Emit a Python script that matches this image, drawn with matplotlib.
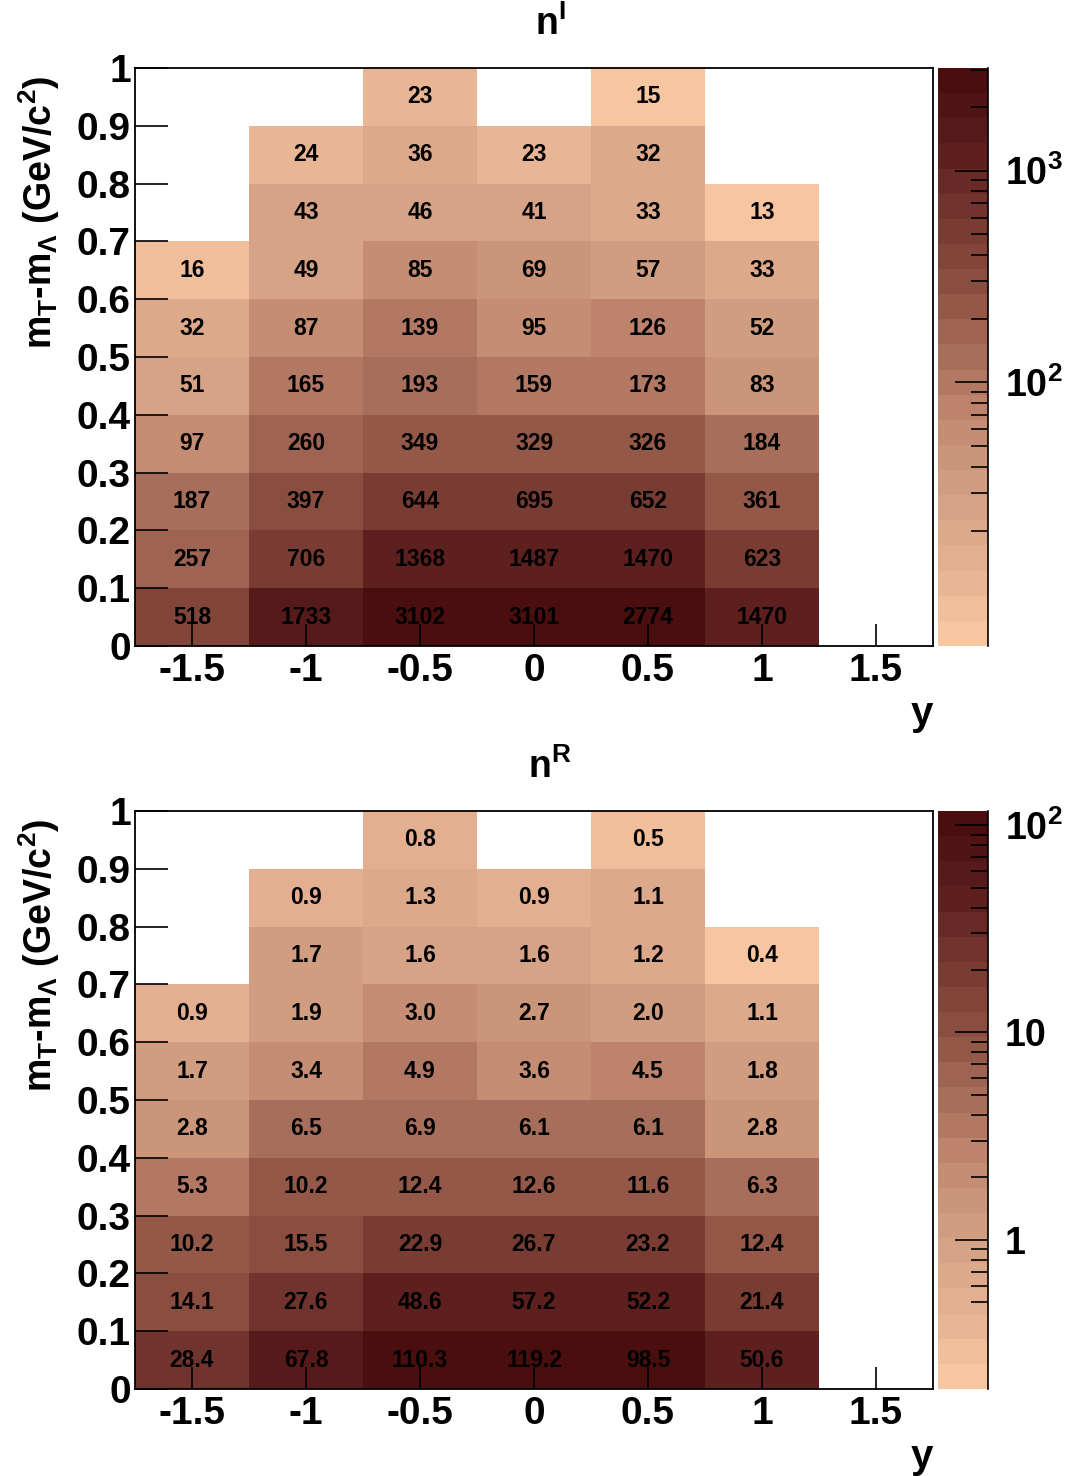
import numpy as np
import matplotlib
matplotlib.use("Agg")
import matplotlib.pyplot as plt
import matplotlib.cm as cm
from matplotlib.colors import LinearSegmentedColormap, ListedColormap, LogNorm
from matplotlib.ticker import FixedLocator, NullFormatter

plt.rcParams['font.family'] = ['Liberation Sans', 'DejaVu Sans']
plt.rcParams['font.weight'] = 'bold'
plt.rcParams['mathtext.fontset'] = 'custom'
plt.rcParams['mathtext.rm'] = 'Liberation Sans:bold'
plt.rcParams['mathtext.it'] = 'Liberation Sans:bold'
plt.rcParams['mathtext.bf'] = 'Liberation Sans:bold'

# bin centres
y_bins = [-1.5, -1.0, -0.5, 0.0, 0.5, 1.0, 1.5]
mt_bins = [0.05, 0.15, 0.25, 0.35, 0.45, 0.55, 0.65, 0.75, 0.85, 0.95]

# rows: mt bins from bottom (0.05) to top (0.95); columns: y bins
nI = [
    [518, 1733, 3102, 3101, 2774, 1470, None],
    [257, 706, 1368, 1487, 1470, 623, None],
    [187, 397, 644, 695, 652, 361, None],
    [97, 260, 349, 329, 326, 184, None],
    [51, 165, 193, 159, 173, 83, None],
    [32, 87, 139, 95, 126, 52, None],
    [16, 49, 85, 69, 57, 33, None],
    [None, 43, 46, 41, 33, 13, None],
    [None, 24, 36, 23, 32, None, None],
    [None, None, 23, None, 15, None, None],
]
nR = [
    [28.4, 67.8, 110.3, 119.2, 98.5, 50.6, None],
    [14.1, 27.6, 48.6, 57.2, 52.2, 21.4, None],
    [10.2, 15.5, 22.9, 26.7, 23.2, 12.4, None],
    [5.3, 10.2, 12.4, 12.6, 11.6, 6.3, None],
    [2.8, 6.5, 6.9, 6.1, 6.1, 2.8, None],
    [1.7, 3.4, 4.9, 3.6, 4.5, 1.8, None],
    [0.9, 1.9, 3.0, 2.7, 2.0, 1.1, None],
    [None, 1.7, 1.6, 1.6, 1.2, 0.4, None],
    [None, 0.9, 1.3, 0.9, 1.1, None, None],
    [None, None, 0.8, None, 0.5, None, None],
]

base = LinearSegmentedColormap.from_list(
    "root_brown",
    ["#f7c6a0", "#e4b091", "#d4a084", "#c48b72", "#a86e5c",
     "#8b5040", "#763830", "#5c1e1e", "#4b0e0e"])
cmap = ListedColormap(base(np.linspace(0, 1, 23)))
cmap.set_bad("white")

fig = plt.figure(figsize=(10.75, 14.76), dpi=100)
W, H = 1075, 1476


def panel(top, data, cell_lim, bar_lim, fmt, title, cb_major, cb_labels, cb_minor):
    ax = fig.add_axes([135 / W, 1 - (top + 578) / H, 798 / W, 578 / H])
    cax = fig.add_axes([938 / W, 1 - (top + 578) / H, 50 / W, 578 / H])
    arr = np.array([[np.nan if v is None else v for v in row] for row in data], dtype=float)
    edges_x = np.append(np.array(y_bins) - 0.25, y_bins[-1] + 0.25)
    edges_y = np.append(np.array(mt_bins) - 0.05, mt_bins[-1] + 0.05)
    ax.pcolormesh(edges_x, edges_y, np.ma.masked_invalid(arr), cmap=cmap,
                  norm=LogNorm(vmin=cell_lim[0], vmax=cell_lim[1]))
    for i, yc in enumerate(mt_bins):
        for j, xc in enumerate(y_bins):
            v = data[i][j]
            if v is None:
                continue
            ax.text(xc, yc, fmt.format(v), ha='center', va='center',
                    fontsize=16.5, fontweight='bold', color='black')
    ax.set_xlim(-1.75, 1.75)
    ax.set_ylim(0, 1)
    ax.set_xticks(y_bins)
    ax.set_xticklabels(['-1.5', '-1', '-0.5', '0', '0.5', '1', '1.5'])
    ax.set_yticks(np.arange(0, 1.01, 0.1))
    ax.set_yticklabels(['0', '0.1', '0.2', '0.3', '0.4', '0.5', '0.6', '0.7', '0.8', '0.9', '1'])
    ax.tick_params(axis='x', direction='in', length=16, width=1.2, labelsize=28, pad=5)
    ax.tick_params(axis='y', direction='in', length=24, width=1.2, labelsize=28, pad=3)
    for lbl in ax.get_xticklabels() + ax.get_yticklabels():
        lbl.set_fontweight('bold')
    for s in ax.spines.values():
        s.set_linewidth(1.3)
    ax.set_ylabel(r'm$_{T}$-m$_{\Lambda}$ (GeV/c$^{2}$)', fontsize=27, fontweight='bold')
    ax.yaxis.set_label_coords(-0.092, 0.75)
    ax.text(1.0, -0.085, 'y', transform=ax.transAxes, ha='right', va='top',
            fontsize=29, fontweight='bold')
    fig.text(550 / W, 1 - (top - 44) / H, title, ha='center', va='center',
             fontsize=27, fontweight='bold')

    sm = cm.ScalarMappable(norm=LogNorm(vmin=bar_lim[0], vmax=bar_lim[1]), cmap=cmap)
    cb = fig.colorbar(sm, cax=cax)
    cb.outline.set_visible(False)
    cax.yaxis.set_ticks_position('right')
    cax.yaxis.set_major_locator(FixedLocator(cb_major))
    cax.yaxis.set_minor_locator(FixedLocator(cb_minor))
    cax.yaxis.set_minor_formatter(NullFormatter())
    cax.set_yticklabels(cb_labels)
    cax.tick_params(axis='y', which='major', direction='in', length=24, width=1.2,
                    labelsize=27, pad=12)
    cax.tick_params(axis='y', which='minor', direction='in', length=12, width=1.2)
    cax.spines['right'].set_visible(True)
    cax.spines['right'].set_linewidth(1.2)


minor_I = [20, 30, 40, 50, 60, 70, 80, 90,
           200, 300, 400, 500, 600, 700, 800, 900, 2000, 3000]
minor_R = [0.5, 0.6, 0.7, 0.8, 0.9, 2, 3, 4, 5, 6, 7, 8, 9,
           20, 30, 40, 50, 60, 70, 80, 90]

panel(68, nI, (12, 3300), (5.7, 3050), '{:d}', r'n$^{I}$',
      [100, 1000], [r'10$^{2}$', r'10$^{3}$'], minor_I)
panel(811, nR, (0.37, 125), (0.19, 117), '{:.1f}', r'n$^{R}$',
      [1, 10, 100], ['1', '10', r'10$^{2}$'], minor_R)

fig.savefig('out.png', dpi=100)
